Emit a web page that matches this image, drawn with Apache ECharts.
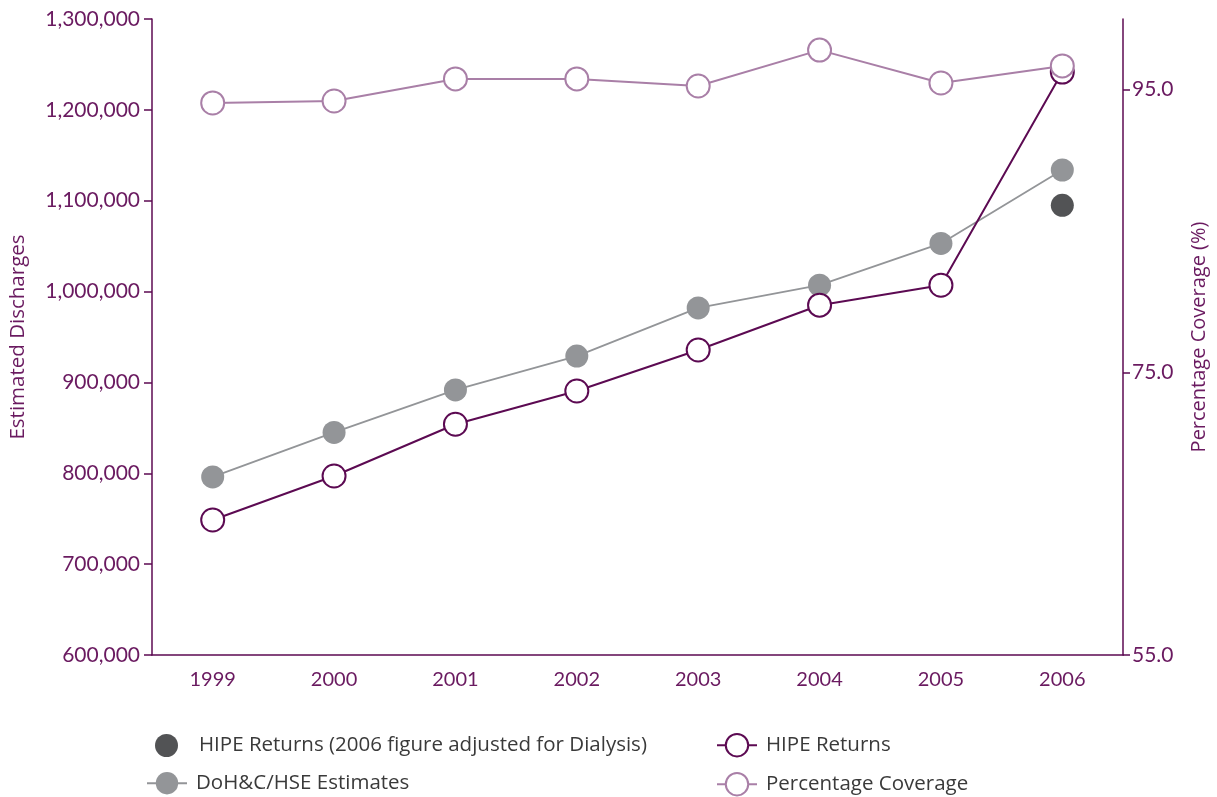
<!DOCTYPE html>
<html>
<head>
<meta charset="utf-8">
<script src="https://cdn.jsdelivr.net/npm/echarts@6/dist/echarts.min.js"></script>
<style>
  html, body { margin: 0; padding: 0; background: #fff; }
  #chart { width: 1217px; height: 797px; }
</style>
</head>
<body>
<div id="chart"></div>
<script>
// data
const years = ['1999', '2000', '2001', '2002', '2003', '2004', '2005', '2006'];
const hipeReturns = [748600, 797000, 854000, 890600, 935700, 985000, 1007000, 1241600];
const dohEstimates = [796000, 845000, 891700, 929000, 982000, 1007000, 1053000, 1133800];
const hipeAdjusted = [null, null, null, null, null, null, null, 1095000];
const coverage = [94.06, 94.2, 95.76, 95.76, 95.26, 97.8, 95.47, 96.68];
const leftTicks = [600000, 700000, 800000, 900000, 1000000, 1100000, 1200000, 1300000];
const rightTicks = [55, 75, 95];

const purple = '#5c0a52';
const textPurple = '#6a1a60';
const lightPurple = '#a97fa7';
const grey = '#939598';
const darkGrey = '#525355';
const font = 'Lato, "Open Sans", sans-serif';
const wideFont = '"Open Sans", Lato, sans-serif';

const chart = echarts.init(document.getElementById('chart'));

// one legend per entry so each icon can get its own size
function legendItem(name, left, top, w, h, pad) {
  return {
    orient: 'vertical',
    left: left,
    top: top,
    padding: 0,
    itemWidth: w,
    itemHeight: h,
    textStyle: { fontFamily: wideFont, fontSize: 20.5, color: '#3a3a3a', padding: [0, 0, 0, pad] },
    data: [name]
  };
}

const option = {
  animation: false,
  textStyle: { fontFamily: font },
  grid: { left: 152, right: 91, top: 19, bottom: 142 },
  legend: [
    legendItem('HIPE Returns (2006 figure adjusted for Dialysis)', 155, 734, 23, 23, 16),
    legendItem('DoH&C/HSE Estimates', 146, 772, 40, 28, 4),
    legendItem('HIPE Returns', 716, 733, 40, 28, 4),
    legendItem('Percentage Coverage', 716, 772, 40, 28, 4)
  ],
  xAxis: {
    type: 'category',
    data: years,
    boundaryGap: true,
    axisLine: { lineStyle: { color: purple, width: 1.5 } },
    axisTick: { show: false },
    axisLabel: { color: textPurple, fontSize: 20, fontFamily: font, margin: 15 }
  },
  yAxis: [
    {
      type: 'value',
      min: 600000,
      max: 1300000,
      interval: 100000,
      name: 'Estimated Discharges',
      nameLocation: 'middle',
      nameGap: 123,
      nameTextStyle: { color: textPurple, fontSize: 20.5, fontFamily: wideFont },
      axisLine: { show: true, lineStyle: { color: purple, width: 1.5 } },
      axisTick: { show: true, length: 8, lineStyle: { color: purple, width: 1.5 }, customValues: leftTicks },
      axisLabel: {
        color: textPurple, fontSize: 21, fontFamily: font, margin: 12,
        customValues: leftTicks,
        formatter: v => v.toLocaleString('en-US')
      },
      splitLine: { show: false }
    },
    {
      type: 'value',
      min: 55,
      max: 100,
      position: 'right',
      name: 'Percentage Coverage (%)',
      nameLocation: 'middle',
      nameGap: 66,
      nameRotate: 90,
      nameTextStyle: { color: textPurple, fontSize: 20, fontFamily: wideFont },
      axisLine: { show: true, lineStyle: { color: purple, width: 1.5 } },
      axisTick: { show: true, length: 7, lineStyle: { color: purple, width: 1.5 }, customValues: rightTicks },
      axisLabel: {
        color: textPurple, fontSize: 21, fontFamily: font, margin: 9,
        customValues: rightTicks,
        formatter: v => v.toFixed(1)
      },
      splitLine: { show: false }
    }
  ],
  series: [
    {
      name: 'DoH&C/HSE Estimates',
      type: 'line',
      data: dohEstimates,
      symbol: 'circle',
      symbolSize: 23,
      lineStyle: { color: grey, width: 1.8 },
      itemStyle: { color: grey, borderWidth: 0 },
      z: 2
    },
    {
      name: 'HIPE Returns (2006 figure adjusted for Dialysis)',
      type: 'scatter',
      data: hipeAdjusted,
      symbol: 'circle',
      symbolSize: 23,
      itemStyle: { color: darkGrey, opacity: 1 },
      z: 3
    },
    {
      name: 'HIPE Returns',
      type: 'line',
      data: hipeReturns,
      symbol: 'circle',
      symbolSize: 23,
      lineStyle: { color: purple, width: 2 },
      itemStyle: { color: '#fff', borderColor: purple, borderWidth: 2 },
      z: 4
    },
    {
      name: 'Percentage Coverage',
      type: 'line',
      yAxisIndex: 1,
      data: coverage,
      symbol: 'circle',
      symbolSize: 23,
      lineStyle: { color: lightPurple, width: 2 },
      itemStyle: { color: '#fff', borderColor: lightPurple, borderWidth: 2 },
      z: 5
    }
  ]
};

chart.setOption(option);
</script>
</body>
</html>
